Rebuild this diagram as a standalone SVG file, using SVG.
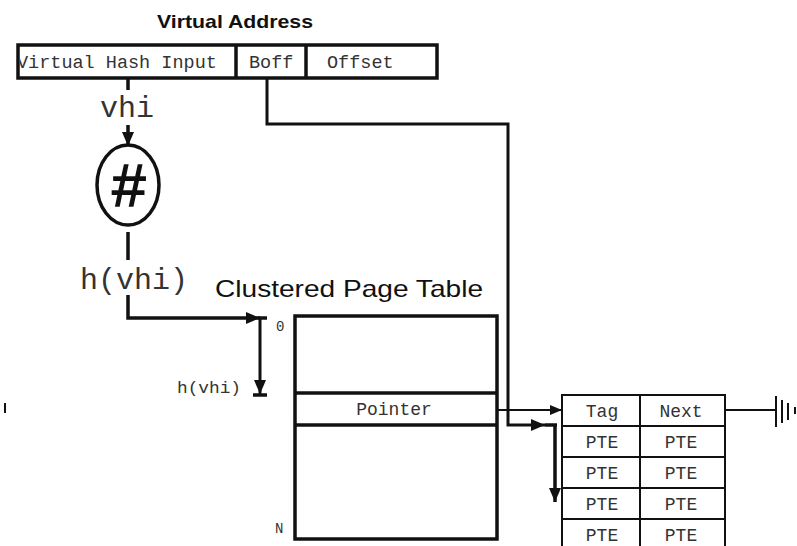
<svg xmlns="http://www.w3.org/2000/svg" width="797" height="546" viewBox="0 0 797 546">
<style>
.mono{font-family:"Liberation Mono","Courier New",monospace;fill:#333}
.sans{font-family:"Liberation Sans",Arial,sans-serif;fill:#111}
.thick{fill:none;stroke:#111;stroke-width:3.5}
.med{fill:none;stroke:#111;stroke-width:3}
.thin{fill:none;stroke:#111;stroke-width:2}
</style>
<defs>
<marker id="ah" viewBox="0 0 14 12" refX="14" refY="6" markerWidth="14" markerHeight="12" markerUnits="userSpaceOnUse" orient="auto">
<path d="M0,0 L14,6 L0,12 Z" fill="#111"/>
</marker>
<marker id="ahs" viewBox="0 0 12 10" refX="12" refY="5" markerWidth="12" markerHeight="10" markerUnits="userSpaceOnUse" orient="auto">
<path d="M0,0 L12,5 L0,10 Z" fill="#111"/>
</marker>
<clipPath id="vaclip"><rect x="20" y="47" width="415" height="29"/></clipPath>
</defs>
<rect width="797" height="546" fill="#fff"/>

<g id="title-va">
<text class="sans" x="235" y="28" font-size="19" font-weight="bold" text-anchor="middle" textLength="156" lengthAdjust="spacingAndGlyphs">Virtual Address</text>
</g>

<g id="virtual-address">
<g clip-path="url(#vaclip)">
<text class="mono" x="17" y="68" font-size="18.5">Virtual Hash Input</text>
<text class="mono" x="249" y="68" font-size="18.5">Boff</text>
<text class="mono" x="327" y="68" font-size="18.5">Offset</text>
</g>
<rect x="18" y="45" width="419" height="33" class="thick" stroke-width="4"/>
<line x1="236" y1="45" x2="236" y2="78" class="thick" stroke-width="4"/>
<line x1="306" y1="45" x2="306" y2="78" class="thick" stroke-width="4"/>
</g>

<g id="hash">
<ellipse cx="128" cy="185" rx="31" ry="40" class="thick"/>
<text class="sans" x="128" y="206" font-size="60" font-style="italic" text-anchor="middle" stroke="#111" stroke-width="1.5">#</text>
</g>

<g id="labels">
<text class="mono" x="127" y="117" font-size="30" text-anchor="middle">vhi</text>
<text class="mono" x="134" y="289" font-size="30" text-anchor="middle">h(vhi)</text>
<text class="mono" x="241" y="393" font-size="16" text-anchor="end" textLength="64" lengthAdjust="spacingAndGlyphs">h(vhi)</text>
<text class="mono" x="276" y="331" font-size="14">0</text>
<text class="mono" x="275" y="533" font-size="14">N</text>
<rect x="4" y="403" width="2" height="10" fill="#111"/>
</g>

<g id="clustered-page-table">
<text class="sans" x="215" y="297" font-size="24" textLength="268" lengthAdjust="spacingAndGlyphs">Clustered Page Table</text>
<rect x="295" y="316" width="202" height="223" class="thick" stroke-width="4"/>
<line x1="295" y1="393" x2="497" y2="393" class="thick" stroke-width="4"/>
<line x1="295" y1="425" x2="497" y2="425" class="thick" stroke-width="4"/>
<text class="mono" x="394" y="415" font-size="18" text-anchor="middle">Pointer</text>
</g>

<g id="pte-cluster">
<rect x="562" y="395" width="163" height="170" class="thin"/>
<line x1="640" y1="395" x2="640" y2="546" class="thin"/>
<line x1="562" y1="426" x2="725" y2="426" class="thin"/>
<line x1="562" y1="457" x2="725" y2="457" class="thin"/>
<line x1="562" y1="488" x2="725" y2="488" class="thin"/>
<line x1="562" y1="519" x2="725" y2="519" class="thin"/>
<text class="mono" x="602" y="417" font-size="18" text-anchor="middle">Tag</text>
<text class="mono" x="681" y="417" font-size="18" text-anchor="middle">Next</text>
<text class="mono" x="602" y="448" font-size="18" text-anchor="middle">PTE</text>
<text class="mono" x="681" y="448" font-size="18" text-anchor="middle">PTE</text>
<text class="mono" x="602" y="479" font-size="18" text-anchor="middle">PTE</text>
<text class="mono" x="681" y="479" font-size="18" text-anchor="middle">PTE</text>
<text class="mono" x="602" y="510" font-size="18" text-anchor="middle">PTE</text>
<text class="mono" x="681" y="510" font-size="18" text-anchor="middle">PTE</text>
<text class="mono" x="602" y="541" font-size="18" text-anchor="middle">PTE</text>
<text class="mono" x="681" y="541" font-size="18" text-anchor="middle">PTE</text>
</g>

<g id="ground">
<line x1="776" y1="396" x2="776" y2="427" class="thin"/>
<line x1="782" y1="400" x2="782" y2="423" class="thin"/>
<line x1="788" y1="403" x2="788" y2="420" class="thin"/>
<line x1="795" y1="407" x2="795" y2="414" class="thin"/>
</g>

<g id="connectors">
<line x1="128" y1="78" x2="128" y2="90" class="thick"/>
<line x1="128" y1="125" x2="128" y2="146" class="thick" marker-end="url(#ah)"/>
<line x1="128" y1="232" x2="128" y2="260" class="thick"/>
<path d="M128,295 V318 H260" class="thick" marker-end="url(#ah)"/>
<line x1="258" y1="318" x2="267" y2="318" class="thick"/>
<line x1="260" y1="318" x2="260" y2="394" class="med" marker-end="url(#ah)"/>
<line x1="253" y1="395" x2="267" y2="395" class="thick"/>
<path d="M267,78 V124 H508 V425 H545" class="med" marker-end="url(#ah)"/>
<line x1="545" y1="425" x2="557" y2="425" class="thick"/>
<line x1="555" y1="425" x2="555" y2="502" class="thick" marker-end="url(#ah)"/>
<line x1="497" y1="410" x2="562" y2="410" class="thin" marker-end="url(#ahs)"/>
<line x1="725" y1="410" x2="776" y2="410" class="thin"/>
</g>
</svg>
